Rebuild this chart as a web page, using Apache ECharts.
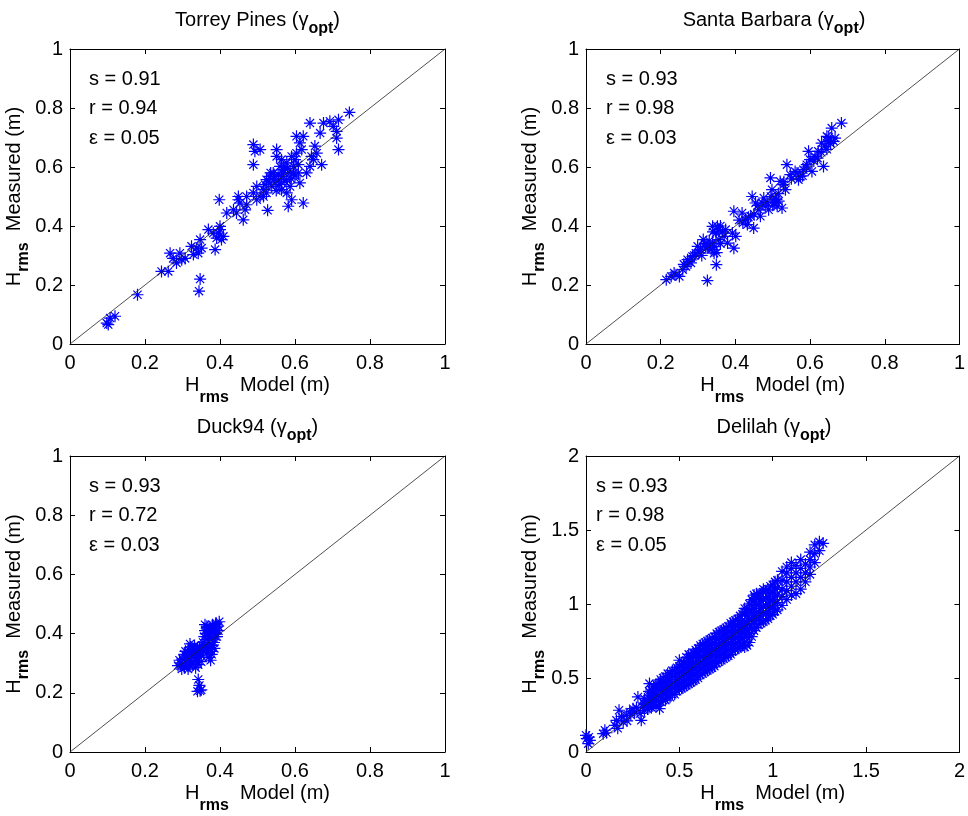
<!DOCTYPE html>
<html>
<head>
<meta charset="utf-8">
<script src="https://cdn.jsdelivr.net/npm/echarts@6/dist/echarts.min.js"></script>
<style>
  html, body { margin: 0; background: #fff; }
  #chart { width: 968px; height: 816px; }
</style>
</head>
<body>
<div id="chart"></div>
<script>
// [model, measured] pairs
const torreyPines = [
  [0.098,0.071],[0.107,0.088],[0.12,0.094],[0.102,0.066],[0.18,0.167],[0.244,0.246],[0.262,0.246],
  [0.267,0.308],[0.275,0.29],[0.293,0.308],[0.298,0.286],[0.284,0.275],[0.307,0.29],[0.324,0.331],
  [0.329,0.303],[0.338,0.325],[0.347,0.354],[0.351,0.325],[0.342,0.308],[0.347,0.22],[0.344,0.179],
  [0.369,0.388],[0.387,0.32],[0.382,0.376],[0.396,0.376],[0.4,0.388],[0.404,0.354],[0.391,0.359],
  [0.409,0.365],[0.4,0.399],[0.398,0.489],[0.418,0.444],[0.436,0.455],[0.444,0.444],[0.449,0.489],
  [0.449,0.5],[0.453,0.478],[0.462,0.421],[0.467,0.455],[0.471,0.472],[0.471,0.5],[0.489,0.512],
  [0.498,0.489],[0.507,0.5],[0.516,0.523],[0.498,0.534],[0.527,0.453],[0.489,0.676],[0.493,0.653],
  [0.507,0.659],[0.489,0.608],[0.524,0.557],[0.533,0.568],[0.542,0.58],[0.551,0.659],[0.551,0.636],
  [0.56,0.602],[0.569,0.591],[0.578,0.614],[0.573,0.551],[0.587,0.534],[0.582,0.467],[0.591,0.489],
  [0.596,0.58],[0.6,0.625],[0.604,0.704],[0.613,0.682],[0.618,0.659],[0.622,0.704],[0.622,0.478],
  [0.613,0.546],[0.609,0.58],[0.64,0.749],[0.644,0.636],[0.653,0.671],[0.671,0.608],[0.667,0.715],
  [0.676,0.749],[0.693,0.755],[0.702,0.738],[0.716,0.76],[0.711,0.721],[0.716,0.659],[0.711,0.698],
  [0.745,0.785],[0.631,0.58],[0.64,0.602],[0.649,0.625],[0.658,0.647],[0.538,0.534],[0.547,0.546],
  [0.556,0.557],[0.564,0.568],[0.516,0.5],[0.524,0.512],[0.564,0.523],[0.578,0.557],[0.587,0.58],
  [0.596,0.602],[0.578,0.512],[0.564,0.625],[0.591,0.636],[0.604,0.647],[0.609,0.608],
  [0.52,0.54],[0.53,0.55],[0.545,0.56],[0.555,0.575],[0.57,0.58],[0.58,0.595],[0.59,0.56],
  [0.6,0.57],[0.55,0.52],[0.56,0.54],[0.535,0.58],[0.57,0.6]
];

const santaBarbara = [
  [0.215,0.218],[0.228,0.229],[0.241,0.235],[0.25,0.229],[0.236,0.241],[0.259,0.252],[0.268,0.263],
  [0.272,0.286],[0.281,0.275],[0.285,0.297],[0.294,0.308],[0.299,0.331],[0.307,0.32],[0.314,0.354],
  [0.321,0.325],[0.33,0.331],[0.339,0.342],[0.339,0.399],[0.348,0.376],[0.352,0.399],[0.356,0.354],
  [0.349,0.269],[0.325,0.215],[0.343,0.308],[0.356,0.388],[0.37,0.365],[0.374,0.388],[0.379,0.342],
  [0.396,0.325],[0.392,0.376],[0.401,0.365],[0.396,0.45],[0.418,0.444],[0.427,0.421],[0.432,0.405],
  [0.441,0.433],[0.445,0.5],[0.454,0.478],[0.449,0.393],[0.463,0.455],[0.472,0.478],[0.48,0.467],
  [0.489,0.455],[0.494,0.563],[0.498,0.523],[0.503,0.478],[0.507,0.495],[0.512,0.467],[0.516,0.484],
  [0.52,0.551],[0.525,0.461],[0.529,0.54],[0.534,0.523],[0.538,0.608],[0.547,0.574],[0.56,0.585],
  [0.569,0.557],[0.574,0.568],[0.582,0.591],[0.591,0.608],[0.596,0.653],[0.6,0.625],[0.605,0.585],
  [0.613,0.636],[0.622,0.653],[0.631,0.681],[0.636,0.602],[0.64,0.671],[0.645,0.704],[0.649,0.687],
  [0.658,0.732],[0.663,0.687],[0.667,0.698],[0.684,0.749],[0.476,0.495],[0.467,0.433],
  [0.262,0.27],[0.276,0.28],[0.29,0.3],[0.302,0.31],[0.31,0.3],[0.318,0.34],[0.326,0.33],
  [0.335,0.32],[0.345,0.33],[0.35,0.31],[0.36,0.34],[0.365,0.38],[0.36,0.4],[0.34,0.38],[0.33,0.35],
  [0.41,0.42],[0.42,0.41],[0.435,0.43],[0.45,0.44],[0.46,0.47],[0.485,0.48],[0.495,0.5],[0.51,0.49],
  [0.5,0.47],[0.515,0.51],[0.53,0.55],[0.55,0.56],[0.565,0.58],[0.58,0.57],[0.59,0.6],[0.61,0.62],
  [0.62,0.63],[0.63,0.65],[0.645,0.66],[0.655,0.68],[0.65,0.7]
];

const duck94 = [
  [0.288,0.292],[0.295,0.30],[0.30,0.315],[0.305,0.285],[0.31,0.30],[0.31,0.325],[0.315,0.34],
  [0.318,0.31],[0.32,0.29],[0.322,0.355],[0.325,0.325],[0.328,0.30],[0.33,0.34],[0.332,0.36],
  [0.335,0.31],[0.338,0.33],[0.34,0.35],[0.342,0.295],[0.345,0.32],[0.348,0.34],[0.35,0.305],
  [0.352,0.36],[0.305,0.33],[0.298,0.28],[0.315,0.28],[0.325,0.345],[0.335,0.285],[0.32,0.365],
  [0.355,0.37],[0.358,0.39],[0.36,0.41],[0.362,0.35],[0.365,0.425],[0.366,0.38],[0.37,0.40],
  [0.372,0.36],[0.374,0.42],[0.376,0.34],[0.378,0.385],[0.38,0.43],[0.382,0.405],[0.384,0.37],
  [0.386,0.42],[0.388,0.39],[0.39,0.435],[0.392,0.41],[0.395,0.425],[0.398,0.44],[0.37,0.32],
  [0.365,0.335],[0.375,0.31],[0.385,0.35],[0.36,0.43],
  [0.292,0.31],[0.30,0.295],[0.308,0.34],[0.312,0.315],[0.318,0.295],[0.322,0.33],[0.328,0.35],
  [0.332,0.325],[0.338,0.305],[0.34,0.34],[0.345,0.355],[0.35,0.325],[0.355,0.345],[0.358,0.36],
  [0.362,0.40],[0.368,0.42],[0.372,0.39],[0.376,0.415],[0.38,0.36],[0.384,0.40],[0.388,0.43],
  [0.392,0.39],[0.396,0.41],[0.37,0.37],[0.366,0.35],[0.378,0.33],
  [0.342,0.245],[0.345,0.225],[0.347,0.207],[0.340,0.205],[0.350,0.21]
];

const delilah = [
  [0.004,0.09],[0.012,0.056],[0.0,0.113],[0.021,0.079],[0.015,0.10],
  [0.092,0.124],[0.101,0.147],[0.11,0.13],[0.154,0.18],[0.163,0.214],[0.17,0.16],[0.177,0.282],
  [0.199,0.203],[0.19,0.24],[0.216,0.248],[0.22,0.21],[0.234,0.271],[0.24,0.25],[0.252,0.293],
  [0.26,0.27],[0.278,0.372],[0.27,0.30],[0.296,0.214],[0.29,0.26],[0.305,0.304],[0.31,0.33],
  [0.323,0.327],[0.34,0.462],[0.349,0.349],[0.33,0.29],
  [0.35,0.30],[0.35,0.34],[0.35,0.38],[0.35,0.42],
  [0.375,0.31],[0.375,0.35],[0.375,0.39],[0.375,0.43],[0.375,0.46],
  [0.394,0.293],[0.40,0.34],[0.40,0.38],[0.40,0.42],[0.40,0.46],[0.40,0.49],
  [0.425,0.35],[0.425,0.39],[0.425,0.43],[0.425,0.47],[0.425,0.51],
  [0.45,0.37],[0.45,0.41],[0.45,0.45],[0.45,0.49],[0.45,0.53],
  [0.475,0.39],[0.475,0.43],[0.475,0.47],[0.475,0.51],[0.475,0.55],
  [0.50,0.42],[0.50,0.46],[0.50,0.50],[0.50,0.54],[0.50,0.58],[0.50,0.62],
  [0.525,0.44],[0.525,0.48],[0.525,0.52],[0.525,0.56],[0.525,0.60],
  [0.55,0.46],[0.55,0.50],[0.55,0.54],[0.55,0.58],[0.55,0.62],[0.55,0.66],
  [0.575,0.48],[0.575,0.52],[0.575,0.56],[0.575,0.60],[0.575,0.64],[0.575,0.67],
  [0.60,0.50],[0.60,0.54],[0.60,0.58],[0.60,0.62],[0.60,0.66],[0.60,0.70],
  [0.625,0.53],[0.625,0.57],[0.625,0.61],[0.625,0.65],[0.625,0.69],[0.625,0.73],
  [0.65,0.55],[0.65,0.59],[0.65,0.63],[0.65,0.67],[0.65,0.71],[0.65,0.75],
  [0.675,0.57],[0.675,0.61],[0.675,0.65],[0.675,0.69],[0.675,0.73],[0.675,0.77],
  [0.70,0.60],[0.70,0.64],[0.70,0.68],[0.70,0.72],[0.70,0.76],[0.70,0.80],
  [0.725,0.62],[0.725,0.66],[0.725,0.70],[0.725,0.74],[0.725,0.78],[0.725,0.82],
  [0.75,0.64],[0.75,0.68],[0.75,0.72],[0.75,0.76],[0.75,0.80],[0.75,0.84],
  [0.775,0.66],[0.775,0.70],[0.775,0.74],[0.775,0.78],[0.775,0.82],[0.775,0.87],
  [0.80,0.69],[0.80,0.73],[0.80,0.77],[0.80,0.81],[0.80,0.85],[0.80,0.89],
  [0.825,0.71],[0.825,0.75],[0.825,0.79],[0.825,0.83],[0.825,0.87],[0.825,0.92],
  [0.85,0.71],[0.85,0.74],[0.85,0.80],[0.85,0.84],[0.85,0.88],[0.85,0.94],[0.85,0.97],
  [0.875,0.74],[0.875,0.80],[0.875,0.86],[0.875,0.90],[0.875,0.96],[0.875,1.0],
  [0.90,0.82],[0.90,0.87],[0.90,0.92],[0.90,0.97],[0.90,1.02],[0.90,1.06],
  [0.925,0.86],[0.925,0.90],[0.925,0.95],[0.925,1.00],[0.925,1.05],
  [0.95,0.88],[0.95,0.93],[0.95,0.98],[0.95,1.03],[0.95,1.08],[0.95,1.10],
  [0.975,0.90],[0.975,0.95],[0.975,1.00],[0.975,1.05],[0.975,1.10],
  [1.00,0.93],[1.00,0.98],[1.00,1.03],[1.00,1.08],[1.00,1.13],
  [1.025,0.96],[1.025,1.01],[1.025,1.06],[1.025,1.11],[1.025,1.16],
  [1.05,0.99],[1.05,1.05],[1.05,1.10],[1.05,1.16],[1.05,1.22],
  [1.075,1.03],[1.075,1.09],[1.075,1.15],[1.075,1.21],[1.075,1.25],
  [1.10,1.06],[1.10,1.12],[1.10,1.18],[1.10,1.24],[1.10,1.28],
  [1.125,1.07],[1.125,1.15],[1.125,1.21],[1.125,1.26],
  [1.15,1.10],[1.15,1.18],[1.15,1.24],[1.15,1.30],
  [1.175,1.15],[1.175,1.21],[1.175,1.27],
  [1.20,1.20],[1.20,1.25],[1.20,1.30],[1.20,1.35],
  [1.225,1.28],[1.225,1.34],[1.225,1.40],
  [1.25,1.36],[1.25,1.42],[1.27,1.41],
  [0.3125,0.28],[0.3125,0.32],[0.3125,0.36],
  [0.3375,0.30],[0.3375,0.34],[0.3375,0.38],[0.3375,0.41],
  [0.3625,0.32],[0.3625,0.36],[0.3625,0.40],[0.3625,0.44],
  [0.3875,0.34],[0.3875,0.38],[0.3875,0.42],[0.3875,0.46],
  [0.4125,0.35],[0.4125,0.39],[0.4125,0.43],[0.4125,0.47],[0.4125,0.50],
  [0.4375,0.37],[0.4375,0.41],[0.4375,0.45],[0.4375,0.49],[0.4375,0.53],
  [0.4625,0.39],[0.4625,0.43],[0.4625,0.47],[0.4625,0.51],[0.4625,0.55],
  [0.4875,0.41],[0.4875,0.45],[0.4875,0.49],[0.4875,0.53],[0.4875,0.57],
  [0.5125,0.43],[0.5125,0.47],[0.5125,0.51],[0.5125,0.55],[0.5125,0.59],
  [0.5375,0.45],[0.5375,0.49],[0.5375,0.53],[0.5375,0.57],[0.5375,0.61],[0.5375,0.64],
  [0.5625,0.47],[0.5625,0.51],[0.5625,0.55],[0.5625,0.59],[0.5625,0.63],[0.5625,0.66],
  [0.5875,0.49],[0.5875,0.53],[0.5875,0.57],[0.5875,0.61],[0.5875,0.65],[0.5875,0.69],
  [0.6125,0.52],[0.6125,0.56],[0.6125,0.60],[0.6125,0.64],[0.6125,0.68],[0.6125,0.72],
  [0.6375,0.54],[0.6375,0.58],[0.6375,0.62],[0.6375,0.66],[0.6375,0.70],[0.6375,0.74],
  [0.6625,0.56],[0.6625,0.60],[0.6625,0.64],[0.6625,0.68],[0.6625,0.72],[0.6625,0.76],
  [0.6875,0.58],[0.6875,0.62],[0.6875,0.66],[0.6875,0.70],[0.6875,0.74],[0.6875,0.78],
  [0.7125,0.61],[0.7125,0.65],[0.7125,0.69],[0.7125,0.73],[0.7125,0.77],[0.7125,0.81],
  [0.7375,0.63],[0.7375,0.67],[0.7375,0.71],[0.7375,0.75],[0.7375,0.79],[0.7375,0.83],
  [0.7625,0.65],[0.7625,0.69],[0.7625,0.73],[0.7625,0.77],[0.7625,0.81],[0.7625,0.85],
  [0.7875,0.68],[0.7875,0.72],[0.7875,0.76],[0.7875,0.80],[0.7875,0.84],[0.7875,0.88],
  [0.8125,0.70],[0.8125,0.74],[0.8125,0.78],[0.8125,0.82],[0.8125,0.86],[0.8125,0.90],
  [0.8375,0.72],[0.8375,0.77],[0.8375,0.81],[0.8375,0.85],[0.8375,0.89],[0.8375,0.93],
  [0.8625,0.72],[0.8625,0.78],[0.8625,0.83],[0.8625,0.87],[0.8625,0.92],[0.8625,0.97],
  [0.8875,0.78],[0.8875,0.84],[0.8875,0.89],[0.8875,0.94],[0.8875,0.99],[0.8875,1.03],
  [0.9125,0.84],[0.9125,0.89],[0.9125,0.94],[0.9125,0.99],[0.9125,1.04],[0.9125,1.07],
  [0.9375,0.87],[0.9375,0.92],[0.9375,0.97],[0.9375,1.02],[0.9375,1.07],
  [0.9625,0.89],[0.9625,0.94],[0.9625,0.99],[0.9625,1.04],[0.9625,1.09],
  [0.9875,0.92],[0.9875,0.97],[0.9875,1.02],[0.9875,1.07],[0.9875,1.12],
  [1.0125,0.95],[1.0125,1.00],[1.0125,1.05],[1.0125,1.10],[1.0125,1.15]
];

const siteNames = ['Torrey Pines', 'Santa Barbara', 'Duck94', 'Delilah'];
const statS = ['0.91', '0.93', '0.93', '0.93'];
const statR = ['0.94', '0.98', '0.72', '0.98'];
const statEps = ['0.05', '0.03', '0.03', '0.05'];
const ticks01 = ['0', '0.2', '0.4', '0.6', '0.8', '1'];
const ticks02 = ['0', '0.5', '1', '1.5', '2'];

const sites = [torreyPines, santaBarbara, duck94, delilah];
const axisMax = [1, 1, 1, 2];
const axisStep = [0.2, 0.2, 0.2, 0.5];
const tickSets = [ticks01, ticks01, ticks01, ticks02];

const FONT = '"Liberation Sans", Arial, Helvetica, sans-serif';
const grids = [
  { left: 70, top: 49, width: 375, height: 295 },
  { left: 586, top: 49, width: 376, height: 295 },
  { left: 70, top: 456, width: 375, height: 296 },
  { left: 586, top: 456, width: 376, height: 296 }
];

// asterisk marker like matlab '*'
const STAR = 'path://M5,0L5,10M0,5L10,5M1.6,1.6L8.4,8.4M1.6,8.4L8.4,1.6';

function richSub(pad) {
  return {
    m: { fontSize: 20, lineHeight: 20, fontFamily: FONT, color: '#000', verticalAlign: 'top' },
    s: { fontSize: 16, lineHeight: 16, fontFamily: FONT, fontWeight: 'bold', color: '#000',
         verticalAlign: 'top', padding: [pad, 0, 0, 0] }
  };
}

const xAxes = [], yAxes = [], series = [], graphic = [];

grids.forEach((g, i) => {
  const labels = tickSets[i];
  const common = {
    type: 'value', gridIndex: i, min: 0, max: axisMax[i], interval: axisStep[i],
    splitLine: { show: false },
    axisLine: { onZero: false, lineStyle: { color: '#000', width: 1 } },
    axisTick: { inside: true, length: 5, lineStyle: { color: '#000' } }
  };
  xAxes[i] = Object.assign({}, common, {
    position: 'bottom',
    axisLabel: {
      margin: 9, color: '#000', fontSize: 20, fontFamily: FONT,
      formatter: v => labels[Math.round(v / axisStep[i])]
    },
    name: '{m|H}{s|rms}{m|  Model (m)}',
    nameLocation: 'middle', nameGap: 31,
    nameTextStyle: { rich: richSub(15) }
  });
  xAxes[i + 4] = Object.assign({}, common, { position: 'top', axisLabel: { show: false } });
  yAxes[i] = Object.assign({}, common, {
    position: 'left',
    axisLabel: {
      margin: 7, color: '#000', fontSize: 20, fontFamily: FONT,
      formatter: v => labels[Math.round(v / axisStep[i])]
    },
    name: '{m|H}{s|rms}{m|  Measured (m)}',
    nameLocation: 'middle', nameGap: 34, nameRotate: 90,
    nameTextStyle: { rich: richSub(11) }
  });
  yAxes[i + 4] = Object.assign({}, common, { position: 'right', axisLabel: { show: false } });

  series.push({
    type: 'scatter', xAxisIndex: i, yAxisIndex: i,
    data: sites[i],
    symbol: STAR, symbolSize: 12,
    itemStyle: { color: '#0000ff', borderColor: '#0000ff', borderWidth: 1.2, opacity: 1 },
    emphasis: { disabled: true },
    z: 2
  });
  series.push({
    type: 'line', xAxisIndex: i, yAxisIndex: i,
    data: [[0, 0], [axisMax[i], axisMax[i]]],
    symbol: 'none', silent: true,
    lineStyle: { color: '#222', width: 0.8 },
    z: 3
  });

  const cx = g.left + g.width / 2;
  graphic.push({
    type: 'text', x: cx, y: g.top - 39,
    style: {
      text: '{m|' + siteNames[i] + ' (}{m|γ}{s|opt}{m|)}',
      rich: richSub(11), align: 'center', verticalAlign: 'top'
    }
  });
  const statX = g.left + [19, 20, 19, 10][i];
  [['s = ', statS[i]], ['r = ', statR[i]], ['ε = ', statEps[i]]].forEach((row, k) => {
    graphic.push({
      type: 'text', x: statX, y: g.top + 30 + k * 29.5,
      style: {
        text: row[0] + row[1], fontSize: 20, fontFamily: FONT, fill: '#000',
        align: 'left', verticalAlign: 'middle'
      }
    });
  });
});

const chart = echarts.init(document.getElementById('chart'));
chart.setOption({
  animation: false,
  backgroundColor: '#fff',
  grid: grids,
  xAxis: xAxes,
  yAxis: yAxes,
  series: series,
  graphic: graphic
});
</script>
</body>
</html>
